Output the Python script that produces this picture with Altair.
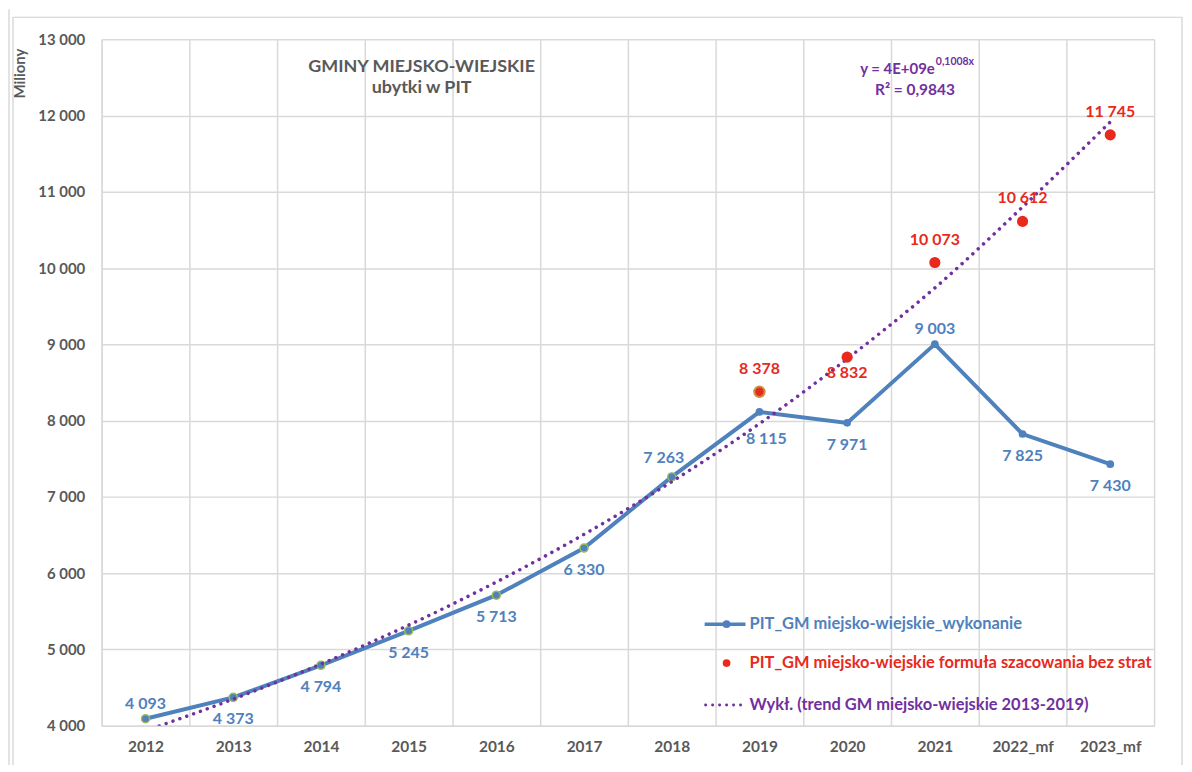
import altair as alt
import pandas as pd

# ---------------- data ----------------
categories = ["2012", "2013", "2014", "2015", "2016", "2017", "2018",
              "2019", "2020", "2021", "2022_mf", "2023_mf"]
wykonanie = [4093, 4373, 4794, 5245, 5713, 6330, 7263, 8115, 7971, 9003, 7825, 7430]
wykonanie_label_side = ["above", "below", "below", "below", "below", "below",
                        "above-left", "below-right", "below", "above", "below", "below"]
outlined_categories = ["2012", "2013", "2014", "2015", "2016", "2017", "2018"]

formula_categories = ["2019", "2020", "2021", "2022_mf", "2023_mf"]
formula = [8378, 8832, 10073, 10612, 11745]
formula_label_side = ["above", "below", "above", "above", "above"]
formula_outlined = ["2019"]

# exponential trend (2013-2019)
trend = [3935, 4350, 4810, 5320, 5885, 6510, 7200, 7960, 8810, 9740, 10800, 11915]

y_ticks = [4000, 5000, 6000, 7000, 8000, 9000, 10000, 11000, 12000, 13000]

title_lines = ["GMINY MIEJSKO-WIEJSKIE", "ubytki w PIT"]
equation_main = "y = 4E+09e"
equation_exp = "0,1008x"
r2_text = "R² = 0,9843"
legend_labels = ["PIT_GM miejsko-wiejskie_wykonanie",
                 "PIT_GM miejsko-wiejskie  formuła szacowania bez strat",
                 "Wykł. (trend  GM miejsko-wiejskie  2013-2019)"]

# ---------------- style ----------------
FONT = "Lato"
BLUE = "#4F81BD"
RED = "#E8291C"
PURPLE = "#7030A0"
GRAY = "#595959"
GRID = "#D9D9D9"
GREEN = "#9BBB59"
FMT = "replace(format(datum.wartosc, ','), ',', ' ')"

df_w = pd.DataFrame({"kategoria": categories, "wartosc": wykonanie, "side": wykonanie_label_side})
df_f = pd.DataFrame({"kategoria": formula_categories, "wartosc": formula, "side": formula_label_side})
df_t = pd.DataFrame({"kategoria": categories, "wartosc": trend})

x_enc = alt.X(
    "kategoria:N", sort=categories,
    scale=alt.Scale(type="band", domain=categories, paddingInner=0, paddingOuter=0),
    axis=alt.Axis(title=None, tickBand="extent", grid=True, gridColor=GRID, gridWidth=1.5,
                  ticks=False, domainColor=GRID, domainWidth=1.5, labelAngle=0,
                  labelFont=FONT, labelFontSize=15.5, labelFontWeight="bold",
                  labelColor=GRAY, labelPadding=14),
)
y_enc = alt.Y(
    "wartosc:Q",
    scale=alt.Scale(domain=[4000, 13000], nice=False, zero=False),
    axis=alt.Axis(values=y_ticks, grid=True, gridColor=GRID, gridWidth=1.5, ticks=False,
                  domainColor=GRID, domainWidth=1.5,
                  labelExpr="replace(format(datum.value, ','), ',', ' ')",
                  labelFont=FONT, labelFontSize=15, labelFontWeight="bold",
                  labelColor=GRAY, labelPadding=17,
                  title="Miliony", titleFont=FONT, titleFontSize=15, titleFontWeight="bold",
                  titleColor=GRAY, titleAngle=270, titleX=-82, titleY=34,
                  titleAlign="center", titleBaseline="middle"),
)

base_w = alt.Chart(df_w).encode(x=x_enc, y=y_enc)
base_f = alt.Chart(df_f).encode(x=x_enc, y=y_enc)
base_t = alt.Chart(df_t).encode(x=x_enc, y=y_enc)

line_w = base_w.mark_line(color=BLUE, strokeWidth=4)
pts_w = base_w.mark_point(filled=True, color=BLUE, size=60, opacity=1)
pts_w_outline = base_w.transform_filter(
    alt.FieldOneOfPredicate(field="kategoria", oneOf=outlined_categories)
).mark_point(filled=True, fill=BLUE, stroke=GREEN, strokeWidth=1.5, size=65, opacity=1)

trend_line = base_t.mark_line(color=PURPLE, strokeWidth=3.5, strokeDash=[0.01, 7.3],
                              strokeCap="round", interpolate="monotone", clip=True)

pts_f = base_f.mark_point(filled=True, color=RED, size=125, opacity=1)
pts_f_outline = base_f.transform_filter(
    alt.FieldOneOfPredicate(field="kategoria", oneOf=formula_outlined)
).mark_point(filled=True, fill=RED, stroke="#C9923F", strokeWidth=2, size=110, opacity=1)

offsets = {
    "above": (0, -15),
    "below": (0, 22),
    "above-left": (-8, -19),
    "below-right": (7, 27),
}

label_layers = []
for side, (dx, dy) in offsets.items():
    label_layers.append(
        base_w.transform_filter(alt.datum.side == side)
        .transform_calculate(label=FMT)
        .mark_text(font=FONT, fontSize=16, fontWeight="bold", color=BLUE,
                   dx=dx, dy=dy, baseline="middle", align="center")
        .encode(text="label:N")
    )
red_offsets = {"above": (0, -23), "below": (0, 16)}
for side, (dx, dy) in red_offsets.items():
    label_layers.append(
        base_f.transform_filter(alt.datum.side == side)
        .transform_calculate(label=FMT)
        .mark_text(font=FONT, fontSize=16, fontWeight="bold", color=RED,
                   dx=dx, dy=dy, baseline="middle", align="center")
        .encode(text="label:N")
    )

one = pd.DataFrame({"k": [0]})


def text_layer(txt, x, y, color, size, align="center"):
    return alt.Chart(one).mark_text(
        font=FONT, fontSize=size, fontWeight="bold", color=color,
        align=align, baseline="middle"
    ).encode(x=alt.value(x), y=alt.value(y), text=alt.value(txt))


annotations = [
    text_layer(title_lines[0], 321, 28, GRAY, 18),
    text_layer(title_lines[1], 321, 49, GRAY, 18),
    text_layer(equation_main, 836, 30, PURPLE, 15, align="right"),
    text_layer(equation_exp, 837, 23, PURPLE, 10.5, align="left"),
    text_layer(r2_text, 816, 51, PURPLE, 15.5),
]

# legend
legend = [
    alt.Chart(one).mark_rule(color=BLUE, strokeWidth=3.5).encode(
        x=alt.value(605), x2=alt.value(646), y=alt.value(587)),
    alt.Chart(one).mark_point(filled=True, color=BLUE, size=60, opacity=1).encode(
        x=alt.value(627), y=alt.value(587)),
    text_layer(legend_labels[0], 650, 587, BLUE, 16.5, align="left"),
    alt.Chart(one).mark_point(filled=True, color=RED, size=60, opacity=1).encode(
        x=alt.value(627), y=alt.value(626)),
    text_layer(legend_labels[1], 650, 626, RED, 16.5, align="left"),
    alt.Chart(one).mark_rule(color=PURPLE, strokeWidth=3, strokeDash=[0.01, 7],
                             strokeCap="round").encode(
        x=alt.value(606), x2=alt.value(645), y=alt.value(668)),
    text_layer(legend_labels[2], 650, 668, PURPLE, 16.5, align="left"),
]

# outer chart frame
frame = [
    alt.Chart(one).mark_rule(color="#D0D0D0", strokeWidth=1.2).encode(
        x=alt.value(-89), y=alt.value(-22), y2=alt.value(729)),
    alt.Chart(one).mark_rule(color="#D0D0D0", strokeWidth=1.2).encode(
        x=alt.value(-93), y=alt.value(-30), y2=alt.value(729)),
    alt.Chart(one).mark_rule(color="#D0D0D0", strokeWidth=1.2).encode(
        x=alt.value(-89), x2=alt.value(1084), y=alt.value(-22)),
    alt.Chart(one).mark_rule(color="#D0D0D0", strokeWidth=1.2).encode(
        x=alt.value(1084), y=alt.value(-22), y2=alt.value(729)),
]

chart = alt.layer(
    line_w, pts_w, pts_w_outline, trend_line, pts_f, pts_f_outline,
    *label_layers, *annotations, *legend, *frame
).properties(
    width=1056, height=689,
    autosize=alt.AutoSizeParams(type="none"),
    padding={"left": 94, "top": 30, "right": 30, "bottom": 38},
    background="white",
).configure_view(strokeWidth=0)

chart.save("out.html", embed_options={"renderer": "svg", "actions": False})
